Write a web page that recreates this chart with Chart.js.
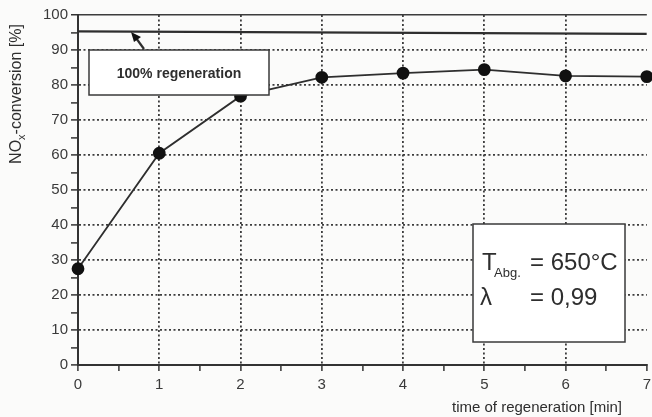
<!DOCTYPE html>
<html>
<head>
<meta charset="utf-8">
<script src="https://cdn.jsdelivr.net/npm/chart.js@4.4.0/dist/chart.umd.min.js"></script>
<style>
  html, body { margin: 0; padding: 0; overflow: hidden; background: #fbfbfa; }
  #wrap { width: 656px; height: 417px; }
</style>
</head>
<body>
<div id="wrap"><canvas id="chart"></canvas></div>
<script>
// values
const regenTime = [0, 1, 2, 3, 4, 5, 6, 7];
const noxConversion = [27.5, 60.5, 76.8, 82.2, 83.4, 84.4, 82.6, 82.4];
const fullRegenTime = [0, 7];
const fullRegenLevel = [95.3, 94.6];
const yTickValues = [0, 10, 20, 30, 40, 50, 60, 70, 80, 90, 100];
const xTickValues = [0, 1, 2, 3, 4, 5, 6, 7];

const ink = '#2e2e2e';
const face = '"Liberation Sans", Arial, sans-serif';

// boxes, arrow and axis titles
const notes = {
  id: 'notes',
  afterDraw(chart) {
    const ctx = chart.ctx;
    ctx.save();
    ctx.strokeStyle = '#3a3a3a';
    ctx.lineWidth = 1.5;

    // arrow to the 100% line
    ctx.save();
    ctx.strokeStyle = ink;
    ctx.lineWidth = 2.2;
    ctx.beginPath();
    ctx.moveTo(144, 49);
    ctx.lineTo(136, 38);
    ctx.stroke();
    ctx.fillStyle = '#111';
    ctx.beginPath();
    ctx.moveTo(131, 32);
    ctx.lineTo(141, 37);
    ctx.lineTo(134, 42);
    ctx.closePath();
    ctx.fill();
    ctx.restore();

    // legend box
    ctx.fillStyle = '#ffffff';
    ctx.fillRect(89, 50, 180, 45);
    ctx.strokeRect(89, 50, 180, 45);
    ctx.fillStyle = ink;
    ctx.font = 'bold 14px ' + face;
    ctx.textAlign = 'center';
    ctx.textBaseline = 'alphabetic';
    ctx.fillText('100% regeneration', 179, 78);

    // conditions box
    ctx.fillStyle = '#ffffff';
    ctx.fillRect(473, 224, 152, 118);
    ctx.strokeRect(473, 224, 152, 118);
    ctx.fillStyle = ink;
    ctx.textAlign = 'left';
    ctx.font = '24px ' + face;
    ctx.fillText('T', 482, 270);
    ctx.fillText('= 650°C', 530, 270);
    ctx.fillText('λ', 480, 305);
    ctx.fillText('= 0,99', 530, 305);
    ctx.font = '13px ' + face;
    ctx.fillText('Abg.', 494, 277);

    // y title, rotated, with subscript x
    ctx.save();
    ctx.translate(21, 94);
    ctx.rotate(-Math.PI / 2);
    const a = 'NO', b = 'x', c = '-conversion [%]';
    ctx.font = '16px ' + face;
    const wa = ctx.measureText(a).width, wc = ctx.measureText(c).width;
    ctx.font = '11px ' + face;
    const wb = ctx.measureText(b).width;
    const x0 = -(wa + wb + wc) / 2;
    ctx.font = '16px ' + face;
    ctx.fillText(a, x0, 0);
    ctx.font = '11px ' + face;
    ctx.fillText(b, x0 + wa, 4);
    ctx.font = '16px ' + face;
    ctx.fillText(c, x0 + wa + wb, 0);
    ctx.restore();

    // x title
    ctx.textAlign = 'center';
    ctx.font = '15px ' + face;
    ctx.fillText('time of regeneration [min]', 537, 412);
    ctx.restore();
  }
};

new Chart(document.getElementById('chart'), {
  type: 'line',
  data: {
    datasets: [
      {
        label: '100% regeneration',
        data: fullRegenTime.map((t, i) => ({ x: t, y: fullRegenLevel[i] })),
        borderColor: ink,
        borderWidth: 2.2,
        pointRadius: 0
      },
      {
        label: 'NOx-conversion',
        data: regenTime.map((t, i) => ({ x: t, y: noxConversion[i] })),
        borderColor: ink,
        borderWidth: 1.8,
        pointRadius: 5.5,
        pointBackgroundColor: '#111',
        pointBorderColor: '#111',
        clip: false
      }
    ]
  },
  options: {
    responsive: true,
    maintainAspectRatio: false,
    animation: false,
    layout: { padding: { top: 15, right: 6, left: 0, bottom: 0 } },
    plugins: { legend: { display: false }, tooltip: { enabled: false } },
    scales: {
      x: {
        type: 'linear',
        min: 0,
        max: 7,
        afterFit: s => { s.height = 52; },
        ticks: {
          stepSize: 0.5,
          autoSkip: false,
          maxRotation: 0,
          padding: 5,
          color: '#3a3a3a',
          font: { family: face, size: 15 },
          callback: v => xTickValues.includes(v) ? String(v) : ''
        },
        grid: {
          color: c => (c.tick && c.tick.value > 0 && c.tick.value < 7 && Number.isInteger(c.tick.value)) ? '#3c3c3c' : 'rgba(0,0,0,0)',
          lineWidth: 1.8,
          tickColor: '#333',
          tickLength: 6,
          tickWidth: 1.5
        },
        border: { display: true, color: '#333', width: 2, dash: [2, 2.5] }
      },
      y: {
        min: 0,
        max: 100,
        afterFit: s => { s.width = 78; },
        ticks: {
          stepSize: 5,
          autoSkip: false,
          padding: 3,
          color: '#3a3a3a',
          font: { family: face, size: 15 },
          callback: v => yTickValues.includes(v) ? String(v) : ''
        },
        grid: {
          color: c => {
            const v = c.tick ? c.tick.value : 0;
            return (v > 0 && v % 10 === 0) ? '#3c3c3c' : 'rgba(0,0,0,0)';
          },
          lineWidth: c => (c.tick && c.tick.value === 100) ? 1.5 : 1.8,
          tickColor: '#333',
          tickLength: 7,
          tickWidth: 1.5
        },
        border: {
          display: true, color: '#333', width: 2,
          dash: c => (c.tick && c.tick.value === 100) ? [] : [2, 2.5]
        }
      }
    }
  },
  plugins: [notes]
});
</script>
</body>
</html>
